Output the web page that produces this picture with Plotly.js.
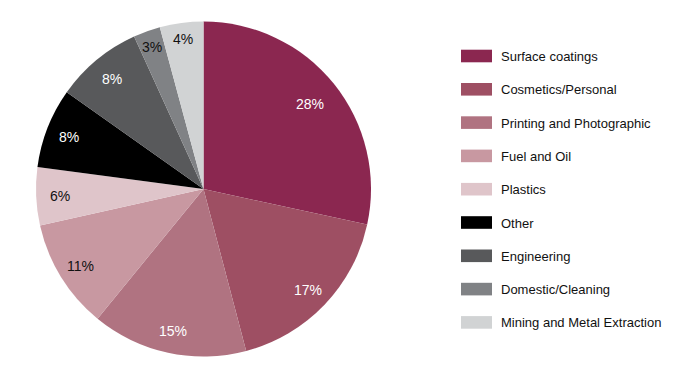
<!DOCTYPE html>
<html>
<head>
<meta charset="utf-8">
<script src="https://cdn.plot.ly/plotly-3.0.1.min.js"></script>
<style>html,body{margin:0;padding:0;background:#fff;}#chart{width:700px;height:380px;}</style>
</head>
<body>
<div id="chart"></div>
<script>
const categories = ["Surface coatings","Cosmetics/Personal","Printing and Photographic","Fuel and Oil","Plastics","Other","Engineering","Domestic/Cleaning","Mining and Metal Extraction"];
const shares = [28.4, 17.5, 15.0, 10.6, 5.6, 7.7, 8.4, 2.6, 4.2];
const shareLabels = ["28%","17%","15%","11%","6%","8%","8%","3%","4%"];
const sliceColors = ["#8B2750","#9E4F63","#B07381","#C898A1","#DFC5CA","#000000","#58595B","#808285","#D1D3D4"];
const labelColors = ["#ffffff","#ffffff","#ffffff","#111111","#111111","#ffffff","#ffffff","#111111","#111111"];

const W = 700, H = 380;
const cx = 203.5, cy = 189, R = 167.5;
const FONT = "'Liberation Sans', Arial, sans-serif";

const total = shares.reduce((a,b)=>a+b,0);
const annotations = [];
const shapes = [];
let cum = 0;
shares.forEach((v,i)=>{
  const frac = v/total;
  const mid = (cum + v/2)/total;
  cum += v;
  const th = 2*Math.PI*mid;
  // small slices push their label further out toward the rim
  const r = (frac < 0.05 ? 0.91 : (frac > 0.25 ? 0.82 : 0.86))*R;
  const px = cx + r*Math.sin(th), py = cy - r*Math.cos(th);
  annotations.push({x:px/W, y:1-(py+1)/H, xref:'paper', yref:'paper', showarrow:false,
    text: shareLabels[i], xanchor:'center', yanchor:'middle',
    font:{family:FONT, size:14, color:labelColors[i]}});
});
const legTop = 56, legStep = 33.3;
categories.forEach((c,i)=>{
  const yc = legTop + i*legStep;
  shapes.push({type:'rect', xref:'paper', yref:'paper', x0:461/W, x1:492/W,
    y0:1-(yc-6.3)/H, y1:1-(yc+6.3)/H, fillcolor:sliceColors[i], line:{width:0}});
  annotations.push({x:499/W, y:1-(yc+0.5)/H, xref:'paper', yref:'paper', showarrow:false,
    text:c, xanchor:'left', yanchor:'middle',
    font:{family:FONT, size:13, color:'#111111'}});
});

const trace = {
  type:'pie', labels:categories, values:shares, sort:false, direction:'clockwise', rotation:0,
  marker:{colors:sliceColors, line:{width:0}}, textinfo:'none', hoverinfo:'label+percent',
  domain:{x:[(cx-R)/W,(cx+R)/W], y:[1-(cy+R)/H, 1-(cy-R)/H]}
};
Plotly.newPlot('chart',[trace],{
  width:W, height:H, margin:{l:0,r:0,t:0,b:0}, showlegend:false,
  paper_bgcolor:'#ffffff', plot_bgcolor:'#ffffff',
  annotations:annotations, shapes:shapes
},{displayModeBar:false, staticPlot:true});
</script>
</body>
</html>
